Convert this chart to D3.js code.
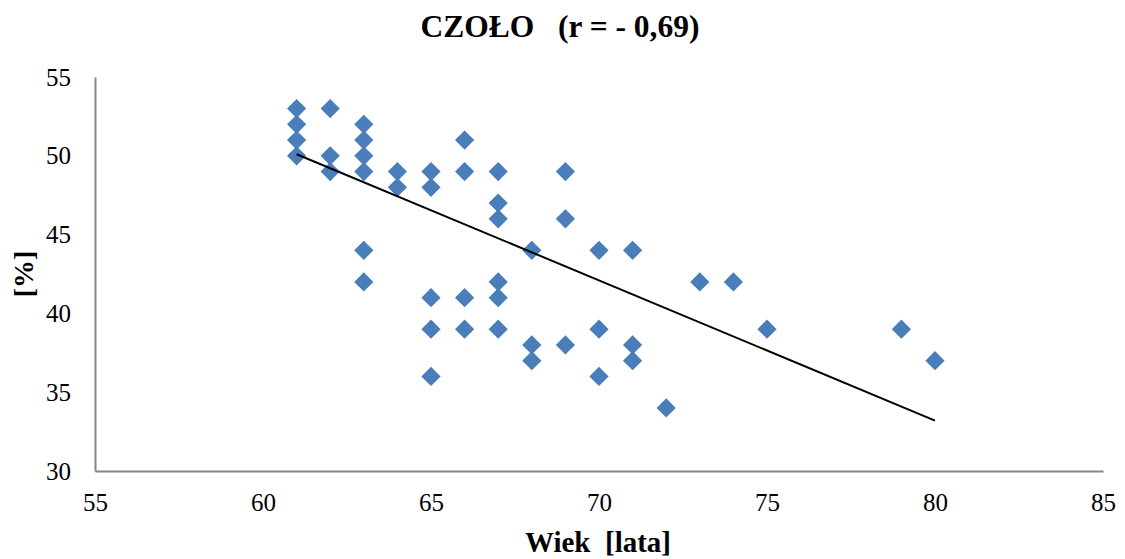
<!DOCTYPE html>
<html>
<head>
<meta charset="utf-8">
<script src="https://cdn.jsdelivr.net/npm/d3@7"></script>
<style>
	body { margin: 0; background: #fff; }
	svg { display: block; font-family: "Times New Roman", Times, serif; }
</style>
</head>
<body>
<div id="chart"></div>
<script>
// Data: age (x) and value in % (y)
const ages = [
	61, 61, 61, 61,
	62, 62, 62,
	63, 63, 63, 63, 63, 63,
	64, 64,
	65, 65, 65, 65, 65,
	66, 66, 66, 66,
	67, 67, 67, 67, 67, 67,
	68, 68, 68,
	69, 69, 69,
	70, 70, 70,
	71, 71, 71,
	72, 73, 74, 75, 79, 80
];
const percents = [
	53, 52, 51, 50,
	53, 50, 49,
	52, 51, 50, 49, 44, 42,
	49, 48,
	49, 48, 41, 39, 36,
	51, 49, 41, 39,
	49, 47, 46, 42, 41, 39,
	44, 38, 37,
	49, 46, 38,
	44, 39, 36,
	44, 38, 37,
	34, 42, 42, 39, 39, 37
];
// Trend line ends as drawn
const trendX = [61, 80];
const trendY = [50.1, 33.2];

const xTicks = [55, 60, 65, 70, 75, 80, 85];
const yTicks = [30, 35, 40, 45, 50, 55];

const titleText = 'CZOŁO   (r = - 0,69)';
const xTitle = 'Wiek  [lata]';
const yTitle = '[%]';

const fontStack = '"Times New Roman", Times, serif';
const width = 1125, height = 559;
const margin = { top: 77, right: 22, bottom: 88, left: 95 };

const svg = d3.select('#chart').append('svg')
	.attr('width', width)
	.attr('height', height);

const x = d3.scaleLinear().domain([55, 85]).range([margin.left, width - margin.right]);
const y = d3.scaleLinear().domain([30, 55]).range([height - margin.bottom, margin.top]);

// Axes (no tick marks, grey lines)
const xAxis = svg.append('g')
	.attr('transform', 'translate(0,' + y(30) + ')')
	.call(d3.axisBottom(x).tickValues(xTicks).tickSize(0).tickPadding(22));
const yAxis = svg.append('g')
	.attr('transform', 'translate(' + x(55) + ',0)')
	.call(d3.axisLeft(y).tickValues(yTicks).tickSize(0).tickPadding(24));

[xAxis, yAxis].forEach(a => {
	a.attr('font-family', fontStack).attr('font-size', 25);
	a.select('.domain').attr('stroke', '#868686').attr('stroke-width', 2);
	a.selectAll('text').attr('fill', '#000');
});

// Points
const points = ages.map((a, i) => ({ age: a, pct: percents[i] }));
const diamond = d3.symbol().type(d3.symbolSquare).size(185);

svg.append('g')
	.selectAll('path.point')
	.data(points)
	.join('path')
		.attr('class', 'point')
		.attr('d', diamond)
		.attr('transform', d => 'translate(' + x(d.age) + ',' + y(d.pct) + ') rotate(45)')
		.attr('fill', '#4a7ebb');

// Trend line
svg.append('path')
	.datum(trendX.map((v, i) => [v, trendY[i]]))
	.attr('fill', 'none')
	.attr('stroke', '#000')
	.attr('stroke-width', 2)
	.attr('d', d3.line().x(d => x(d[0])).y(d => y(d[1])));

// Titles
svg.append('text')
	.attr('x', 560)
	.attr('y', 37)
	.attr('text-anchor', 'middle')
	.attr('font-family', fontStack)
	.style('font-size', '31.5px')
	.style('font-weight', 'bold')
	.style('white-space', 'pre')
	.text(titleText);

svg.append('text')
	.attr('x', 598)
	.attr('y', 552)
	.attr('text-anchor', 'middle')
	.attr('font-family', fontStack)
	.style('font-size', '29px')
	.style('font-weight', 'bold')
	.style('white-space', 'pre')
	.text(xTitle);

svg.append('text')
	.attr('transform', 'translate(33,274) rotate(-90)')
	.attr('text-anchor', 'middle')
	.attr('font-family', fontStack)
	.style('font-size', '28px')
	.style('font-weight', 'bold')
	.text(yTitle);
</script>
</body>
</html>
